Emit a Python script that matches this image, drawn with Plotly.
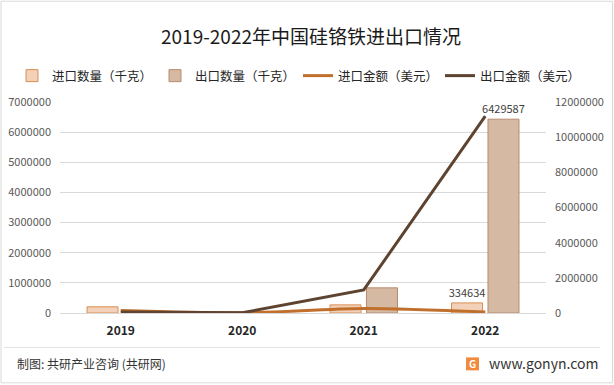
import plotly.graph_objects as go

years = ["2019", "2020", "2021", "2022"]
import_qty = [205000, 4000, 270000, 334634]
export_qty = [3000, 2000, 835000, 6429587]
import_amt = [140000, 10000, 260000, 60000]
export_amt = [50000, 15000, 1310000, 11200000]
left_ticks = [0, 1000000, 2000000, 3000000, 4000000, 5000000, 6000000, 7000000]
right_ticks = [0, 2000000, 4000000, 6000000, 8000000, 10000000, 12000000]

FONT = "Noto Sans CJK SC"

import_labels = ["", "", "", "334634"]
export_labels = ["", "", "", "6429587"]

fig = go.Figure()
fig.add_trace(go.Bar(
    x=years, y=import_qty, name="进口数量（千克）", legend="legend",
    marker=dict(color="#F3D1B8", line=dict(color="#D98F55", width=1)),
    text=import_labels, textposition="outside", cliponaxis=False, constraintext="none",
    textfont=dict(size=11, color="#404040", family=FONT),
))
fig.add_trace(go.Bar(
    x=years, y=export_qty, name="出口数量（千克）", legend="legend2",
    marker=dict(color="#D6B9A3", line=dict(color="#B98B6D", width=1)),
    text=export_labels, textposition="outside", cliponaxis=False, constraintext="none",
    textfont=dict(size=11, color="#404040", family=FONT),
))
fig.add_trace(go.Scatter(
    x=years, y=import_amt, name="进口金额（美元）", yaxis="y2", legend="legend3",
    mode="lines", line=dict(color="#C0702C", width=3, shape="spline", smoothing=0.8),
))
fig.add_trace(go.Scatter(
    x=years, y=export_amt, name="出口金额（美元）", yaxis="y2", legend="legend4",
    mode="lines", line=dict(color="#5E4430", width=3),
))

W, H = 614, 385
L, R, T, B = 60, 546, 102, 313.5


def px(x):
    return (x - L) / (R - L)


def py(y):
    return (B - y) / (B - T)


def legend_at(xpix):
    return dict(orientation="h", xref="container", x=xpix / W, xanchor="left",
                yref="container", y=1 - 76 / H, yanchor="middle",
                font=dict(size=12.5, color="#262626", family=FONT),
                bgcolor="rgba(0,0,0,0)")


fig.update_layout(
    width=W, height=H,
    margin=dict(l=L, r=W - R, t=T, b=H - B, autoexpand=False),
    paper_bgcolor="white", plot_bgcolor="white",
    font=dict(family=FONT, color="#404040"),
    barmode="group", bargap=0.4, bargroupgap=0.15,
    title=dict(text="2019-2022年中国硅铬铁进出口情况", x=px(311), xanchor="center", xref="paper",
               y=1 - 37 / H, yanchor="middle",
               font=dict(size=19, color="#1a1a1a", family=FONT)),
    legend=legend_at(12),
    legend2=legend_at(155),
    legend3=legend_at(298),
    legend4=legend_at(440),
    showlegend=True,
    xaxis=dict(type="category", showgrid=False, showline=True, linecolor="#D9D9D9", linewidth=1,
               ticks="", tickfont=dict(size=12, color="#262626", family=FONT, weight="bold"),
               ticklabelstandoff=7, range=[-0.5, 3.5]),
    yaxis=dict(range=[0, 7000000], tickvals=left_ticks, tickformat="d", showgrid=True,
               gridcolor="#D9D9D9", gridwidth=1, zeroline=False, showline=False,
               tickfont=dict(size=11, color="#595959", family=FONT), ticklabelstandoff=8),
    yaxis2=dict(range=[0, 12000000], tickvals=right_ticks, tickformat="d", overlaying="y",
                side="right", showgrid=False, zeroline=False, showline=False,
                tickfont=dict(size=11, color="#595959", family=FONT), ticklabelstandoff=8),
)

shapes = [
    dict(type="rect", xref="paper", yref="paper", x0=px(1), x1=px(612.5), y0=py(383.5), y1=py(1),
         line=dict(color="#D9D9D9", width=1), fillcolor="rgba(0,0,0,0)", layer="below"),
    dict(type="line", xref="paper", yref="paper", x0=px(4), x1=px(600), y0=py(348), y1=py(348),
         line=dict(color="#E3E3E3", width=1)),
    dict(type="rect", xref="paper", yref="paper", x0=px(466), x1=px(479), y0=py(371), y1=py(358),
         line=dict(width=0), fillcolor="#F08A3C"),
]
fig.update_layout(shapes=shapes)

fig.add_annotation(text="制图: 共研产业咨询 (共研网)", xref="paper", yref="paper",
                   x=px(15), y=py(364), xanchor="left", yanchor="middle", showarrow=False,
                   font=dict(size=12, color="#333333", family=FONT))
fig.add_annotation(text="www.gonyn.com", xref="paper", yref="paper",
                   x=px(487), y=py(364), xanchor="left", yanchor="middle", showarrow=False,
                   font=dict(size=14, color="#333333", family=FONT))
fig.add_annotation(text="<b>G</b>", xref="paper", yref="paper",
                   x=px(472.5), y=py(364.5), xanchor="center", yanchor="middle", showarrow=False,
                   font=dict(size=10, color="white", family=FONT))

fig.write_html("out.html", config={"displayModeBar": False})

with open("out.html", "r", encoding="utf-8") as f:
    html = f.read()
html = html.replace("<head>", "<head><style>html,body{margin:0;padding:0;overflow:hidden;}</style>", 1)
with open("out.html", "w", encoding="utf-8") as f:
    f.write(html)
